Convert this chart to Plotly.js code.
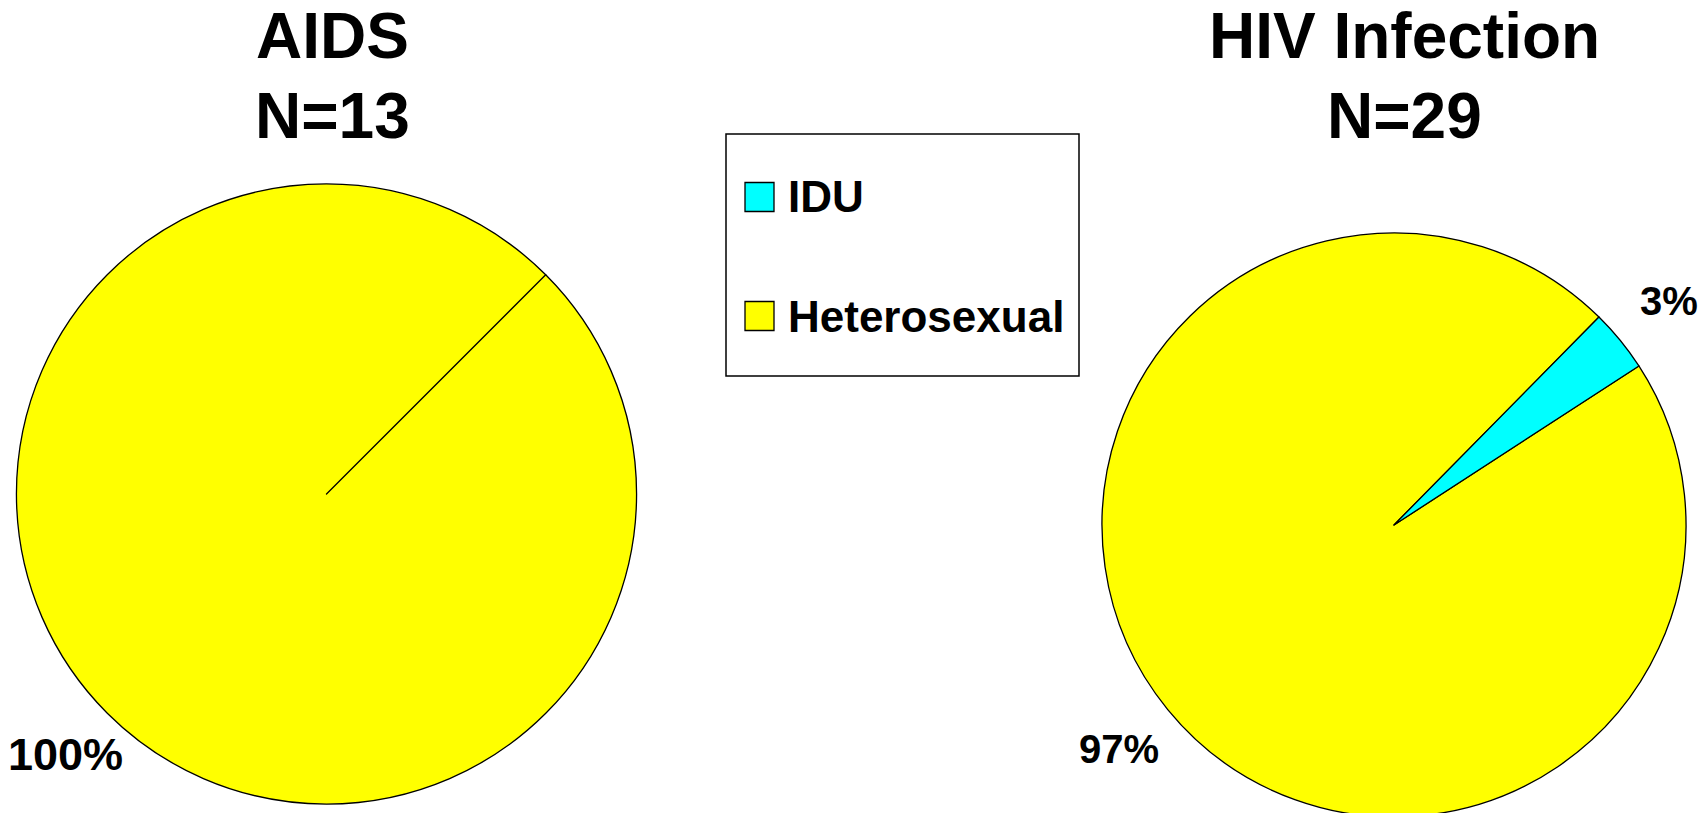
<!DOCTYPE html>
<html>
<head>
<meta charset="utf-8">
<script src="https://cdn.plot.ly/plotly-3.0.1.min.js"></script>
<style>
html, body { margin: 0; padding: 0; overflow: hidden; background: #fff; }
#chart { width: 1707px; height: 821px; }
</style>
</head>
<body>
<div id="chart"></div>
<script>
// ---- data ----
const categories = ['IDU', 'Heterosexual'];
const sliceColors = ['#00FFFF', '#FFFF00'];
const aidsValues = [0, 13];
const hivValues = [1, 28];
const panelTitles = ['AIDS', 'HIV Infection'];
const panelN = ['N=13', 'N=29'];

// ---- layout helpers ----
const W = 1707, H = 821;
const px = x => x / W;
const py = y => 1 - y / H;
const FONT = 'Arial, "Liberation Sans", sans-serif';
// slices are drawn Heterosexual first, then IDU (so the empty IDU slice's edge shows)
const drawOrder = [1, 0];

const annotations = [];

function pieTrace(values, cx, cy, r, rot, textSize, labelFactor) {
  const total = values.reduce((a, b) => a + b, 0);
  let cum = 0;
  drawOrder.forEach(i => {
    const v = values[i];
    const mid = (rot + (cum + v / 2) / total * 360) * Math.PI / 180;
    cum += v;
    if (v > 0) {
      annotations.push({
        text: Math.round(v / total * 100) + '%',
        x: px(cx + labelFactor * r * Math.sin(mid)), y: py(cy - labelFactor * r * Math.cos(mid)),
        xref: 'paper', yref: 'paper', xanchor: 'center', yanchor: 'middle', showarrow: false,
        font: { family: FONT, size: textSize, color: '#000', weight: 'bold' }
      });
    }
  });
  return {
    type: 'pie',
    labels: drawOrder.map(i => categories[i]),
    values: drawOrder.map(i => values[i]),
    marker: { colors: drawOrder.map(i => sliceColors[i]), line: { color: '#000', width: 1.3 } },
    sort: false,
    direction: 'clockwise',
    rotation: rot,
    textinfo: 'none',
    hoverinfo: 'none',
    showlegend: false,
    domain: { x: [px(cx - r), px(cx + r)], y: [py(cy + r), py(cy - r)] }
  };
}

const data = [
  pieTrace(aidsValues, 326.5, 494, 310, 45, 45, 1.19),
  pieTrace(hivValues, 1394, 525, 292, 57, 40, 1.215)
];

const titleX = [332, 1404];
panelTitles.forEach((t, i) => {
  annotations.push({ text: t, x: px(titleX[i]), y: py(36), xref: 'paper', yref: 'paper',
    xanchor: 'center', yanchor: 'middle', showarrow: false,
    font: { family: FONT, size: 64, color: '#000', weight: 'bold' } });
  annotations.push({ text: panelN[i], x: px(titleX[i]), y: py(116), xref: 'paper', yref: 'paper',
    xanchor: 'center', yanchor: 'middle', showarrow: false,
    font: { family: FONT, size: 64, color: '#000', weight: 'bold' } });
});

// custom legend (large swatches)
const shapes = [
  { type: 'rect', xref: 'paper', yref: 'paper', x0: px(726), x1: px(1079), y0: py(376), y1: py(134),
    line: { color: '#000', width: 1.5 }, fillcolor: 'rgba(0,0,0,0)' }
];
const legendRowY = [197, 316];
categories.forEach((c, i) => {
  const yc = legendRowY[i];
  shapes.push({ type: 'rect', xref: 'paper', yref: 'paper', x0: px(745), x1: px(774),
    y0: py(yc + 14.5), y1: py(yc - 14.5), line: { color: '#000', width: 1.3 }, fillcolor: sliceColors[i] });
  annotations.push({ text: c, x: px(786), y: py(yc), xref: 'paper', yref: 'paper',
    xanchor: 'left', yanchor: 'middle', showarrow: false,
    font: { family: FONT, size: 44, color: '#000', weight: 'bold' } });
});

const layout = {
  width: W, height: H,
  margin: { l: 0, r: 0, t: 0, b: 0 },
  paper_bgcolor: '#fff', plot_bgcolor: '#fff',
  font: { family: FONT, color: '#000' },
  showlegend: false,
  annotations: annotations,
  shapes: shapes
};

Plotly.newPlot('chart', data, layout, { displayModeBar: false, staticPlot: true });
</script>
</body>
</html>
